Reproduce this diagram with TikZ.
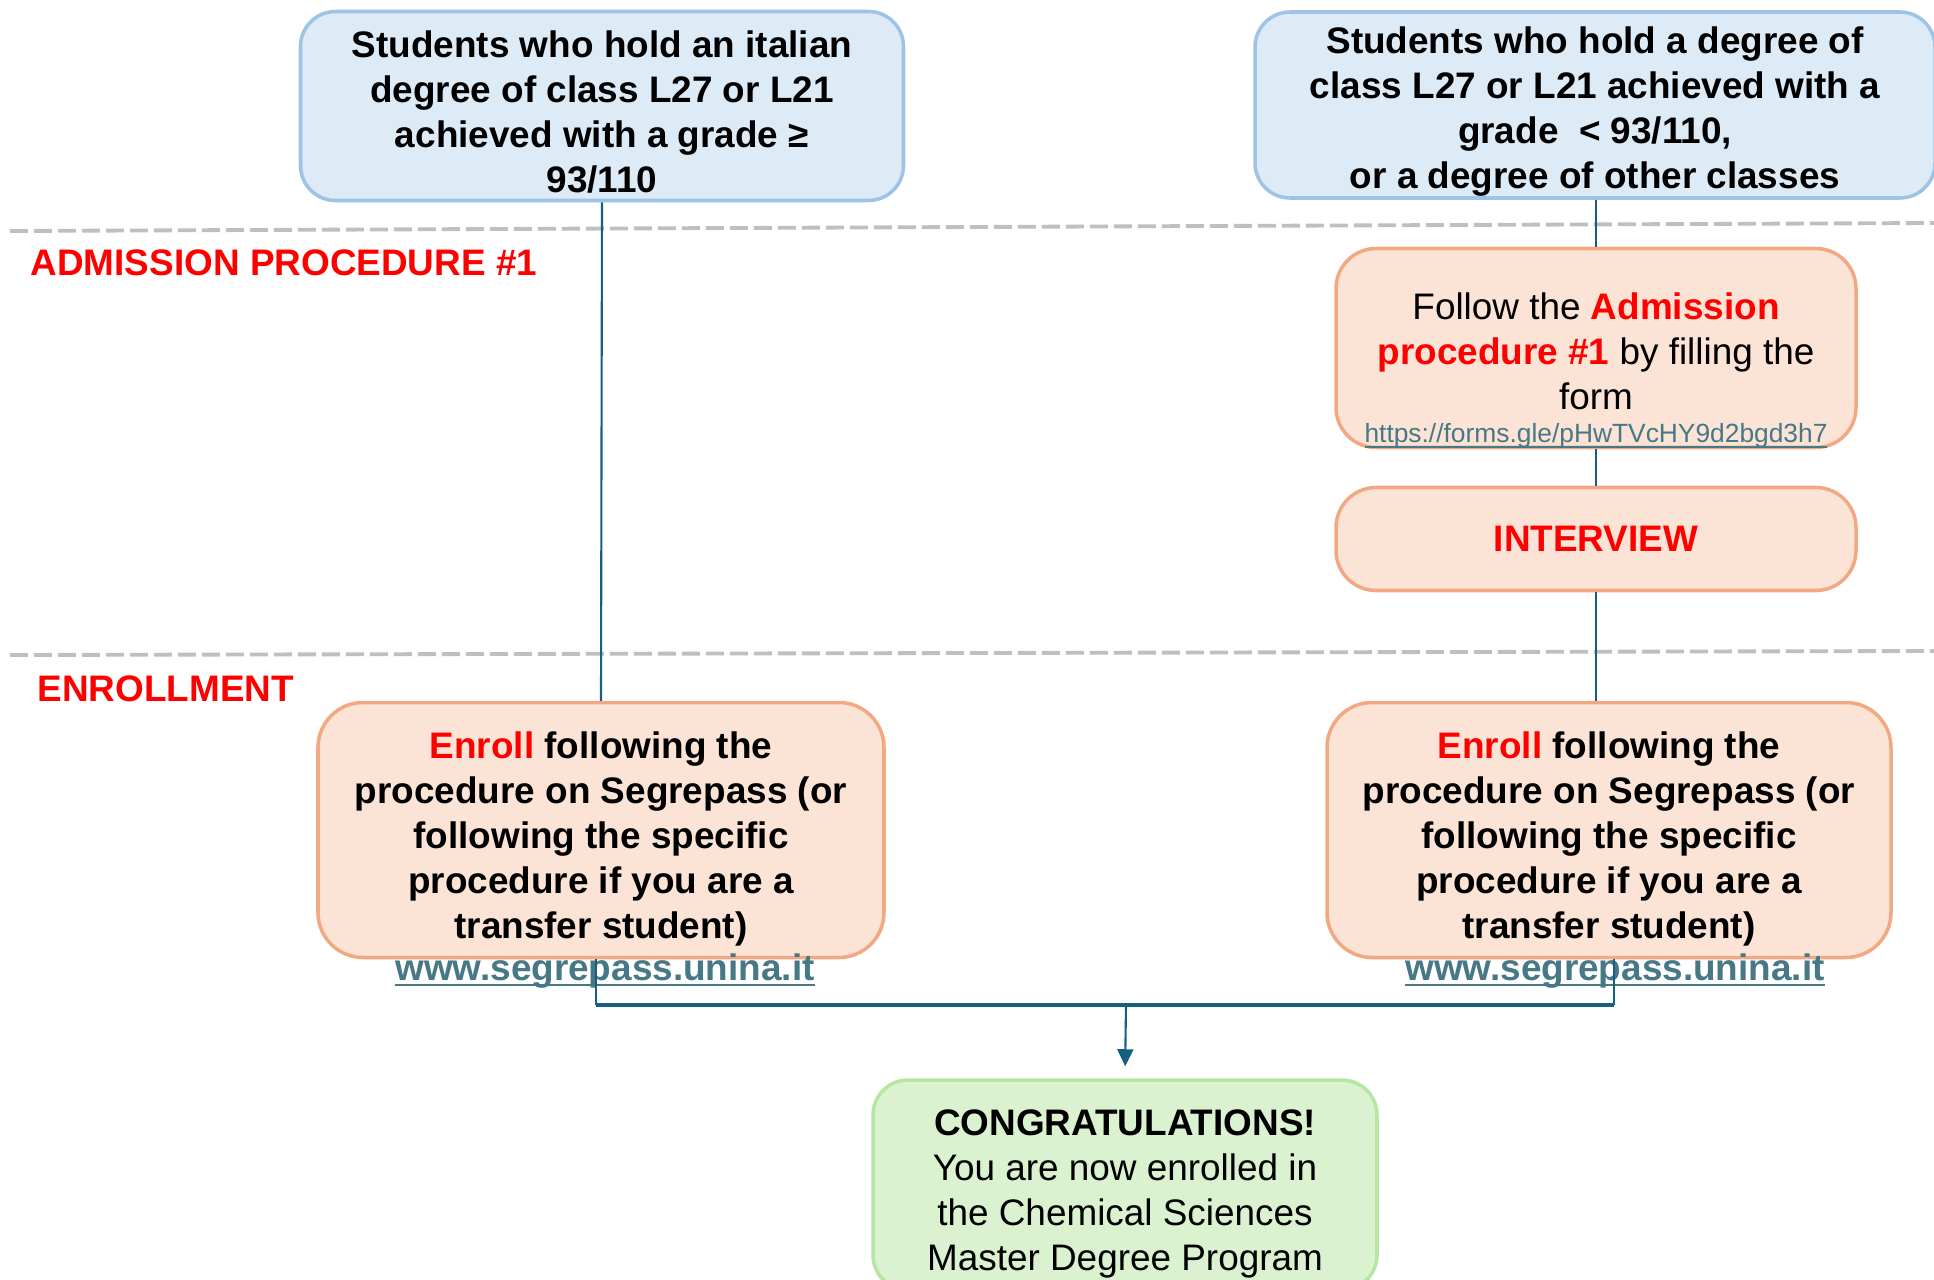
\documentclass[tikz,border=0pt]{standalone}
\usepackage{fontspec}
\setmainfont{Liberation Sans}
\usetikzlibrary{arrows.meta}
\definecolor{boxblue}{HTML}{DDEBF7}
\definecolor{lineblue}{HTML}{9DC3E6}
\definecolor{boxorange}{HTML}{FBE3D6}
\definecolor{lineorange}{HTML}{F2A983}
\definecolor{boxgreen}{HTML}{DAF2D0}
\definecolor{linegreen}{HTML}{B5E6A2}
\definecolor{linkcol}{HTML}{467886}
\definecolor{connblue}{HTML}{156082}
\definecolor{dashgrey}{HTML}{BFBFBF}
\newcommand{\ulink}[1]{\setbox0\hbox{#1}\rlap{\rule[-1.6pt]{\wd0}{0.6pt}}\box0}
\newcommand{\padtop}[1]{\rule{0pt}{#1}}

\begin{document}
\begin{tikzpicture}[x=0.1mm, y=-0.1mm,
        txt/.style={font=\fontsize{10.5}{12.8}\selectfont, align=center, inner sep=0pt},
        btxt/.style={font=\fontsize{10.5}{12.8}\selectfont\bfseries, align=center, inner sep=0pt},
        bluebox/.style={draw=lineblue, fill=boxblue, line width=1pt, rounded corners=3.5mm},
        orangebox/.style={draw=lineorange, fill=boxorange, line width=1pt, rounded corners=4mm},
        greenbox/.style={draw=linegreen, fill=boxgreen, line width=1pt, rounded corners=3.5mm},
        conn/.style={draw=connblue, line width=0.6pt},
        sep/.style={draw=dashgrey, line width=1.1pt, dash pattern=on 1.8mm off 0.6mm}]
        \useasboundingbox (0,0) rectangle (1934,1280);

        % phase separators
        \draw[sep] (10,231) -- (1934,223);
        \draw[sep] (10,655) -- (1934,651);
        \node[btxt, text=red, anchor=west] (admlabel) at (30,263) {ADMISSION PROCEDURE \#1};
        \node[btxt, text=red, anchor=west] (enrlabel) at (37,689) {ENROLLMENT};

        % starting groups
        \node[bluebox, btxt, minimum width=60.3mm, minimum height=18.9mm] (topL) at (602,106)
            {\padtop{11.2pt}Students who hold an italian\\degree of class L27 or L21\\achieved with a grade ≥\\93/110};
        \node[bluebox, btxt, minimum width=68mm, minimum height=18.6mm] (topR) at (1595,105)
            {\padtop{11.2pt}Students who hold a degree of\\class L27 or L21 achieved with a\\grade~~< 93/110,\\or a degree of other classes};

        % admission steps
        \node[orangebox, txt, minimum width=52mm, minimum height=19.9mm] (adm) at (1596,348)
            {\padtop{9.4pt}Follow the \textcolor{red}{\bfseries Admission}\\\textcolor{red}{\bfseries procedure \#1} by filling the\\form};
        \node[txt, font=\fontsize{7.5}{9}\selectfont, text=linkcol] (admurl) at (1596,436)
            {\ulink{https://forms.gle/pHwTVcHY9d2bgd3h7}};
        \node[orangebox, btxt, text=red, minimum width=52mm, minimum height=10.3mm] (intv) at (1596,539) {INTERVIEW};

        % enrollment
        \node[orangebox, btxt, rounded corners=4.5mm, minimum width=56.6mm, minimum height=25.5mm] (enrL) at (601,830)
            {\padtop{12.6pt}\textcolor{red}{Enroll} following the\\procedure on Segrepass (or\\following the specific\\procedure if you are a\\transfer student)};
        \node[orangebox, btxt, rounded corners=4.5mm, minimum width=56.4mm, minimum height=25.5mm] (enrR) at (1609,830)
            {\padtop{12.6pt}\textcolor{red}{Enroll} following the\\procedure on Segrepass (or\\following the specific\\procedure if you are a\\transfer student)};
        \node[btxt, text=linkcol] (urlL) at (605,971) {\ulink{www.segrepass.unina.it}};
        \node[btxt, text=linkcol] (urlR) at (1615,971) {\ulink{www.segrepass.unina.it}};

        \node[greenbox, txt, minimum width=50.4mm, minimum height=21mm] (cong) at (1125,1185)
            {\padtop{12.5pt}\textbf{CONGRATULATIONS!}\\You are now enrolled in\\the Chemical Sciences\\Master Degree Program};

        % connectors
        \draw[conn] (topL.south) -- (enrL.north);
        \draw[conn] (adm.north |- topR.south) -- (adm.north);
        \draw[conn] (adm.south) -- (intv.north);
        \draw[conn] (intv.south) -- (intv.south |- enrR.north);

        \coordinate (join) at (1126,1005);
        \draw[conn] ([xshift=-0.5mm]enrL.south) -- ([xshift=-0.5mm]enrL.south |- join);
        \draw[conn] ([xshift=0.5mm]enrR.south) -- ([xshift=0.5mm]enrR.south |- join);
        \draw[conn, line width=0.9pt] ([xshift=-0.5mm]enrL.south |- join) -- ([xshift=0.5mm]enrR.south |- join);
        \draw[conn, -{Triangle[width=1.6mm, length=1.7mm]}, shorten >=1.2mm] (join) -- (cong.north);
    \end{tikzpicture}
\end{document}
